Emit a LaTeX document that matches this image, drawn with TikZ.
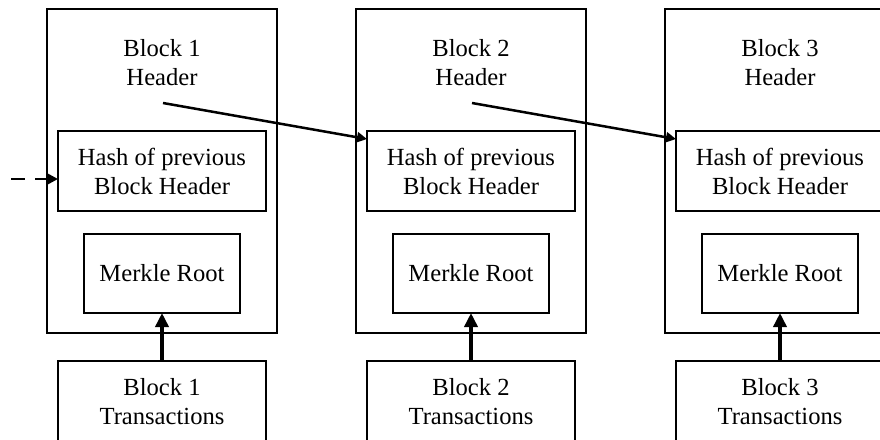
\documentclass[tikz,border=0pt]{standalone}
\usepackage{fontspec}
\setmainfont{Liberation Serif}
\usetikzlibrary{arrows.meta,calc}
\begin{document}
\begin{tikzpicture}[x=1pt,y=-1pt,
  every node/.style={inner sep=0pt,outer sep=0pt},
  box/.style={draw,line width=1.8pt,rectangle},
  txt/.style={font=\fontsize{24.6}{29}\selectfont,align=center},
  link/.style={line width=2.5pt,-{Triangle[length=10pt,width=10pt]}},
  feed/.style={line width=4pt,-{Triangle[length=14pt,width=13pt]}},
  prev/.style={line width=2.8pt,dash pattern=on 14pt off 10pt,-{Triangle[length=10pt,width=10pt]}}
]
\useasboundingbox (0,0) rectangle (880,439);
\foreach \i in {1,2,3}{
  \pgfmathsetmacro{\dx}{309*(\i-1)}
  \node[box,minimum width=230pt,minimum height=324pt] (o\i) at (162+\dx,171) {};
  \node[txt] (t\i) at (162+\dx,63) {Block \i\\Header};
  \node[box,txt,minimum width=208pt,minimum height=80pt] (h\i) at (162+\dx,171) {Hash of previous\\Block Header};
  \node[box,txt,minimum width=156pt,minimum height=79pt] (m\i) at (162+\dx,273.5) {Merkle Root};
  \node[box,minimum width=208pt,minimum height=100pt] (b\i) at (162+\dx,411) {};
  \node[txt] (bt\i) at (162+\dx,402) {Block \i\\Transactions};
  \coordinate (s\i) at (163+\dx,103);
  \draw[feed] (b\i.north) -- (m\i.south);
}
\draw[link] (s1) -- ($(h2.north west)+(0,8)$);
\draw[link] (s2) -- ($(h3.north west)+(0,8)$);
\coordinate (d0) at (11,179);
\draw[prev] (d0) -- ($(h1.west)+(0,8)$);
\end{tikzpicture}
\end{document}
